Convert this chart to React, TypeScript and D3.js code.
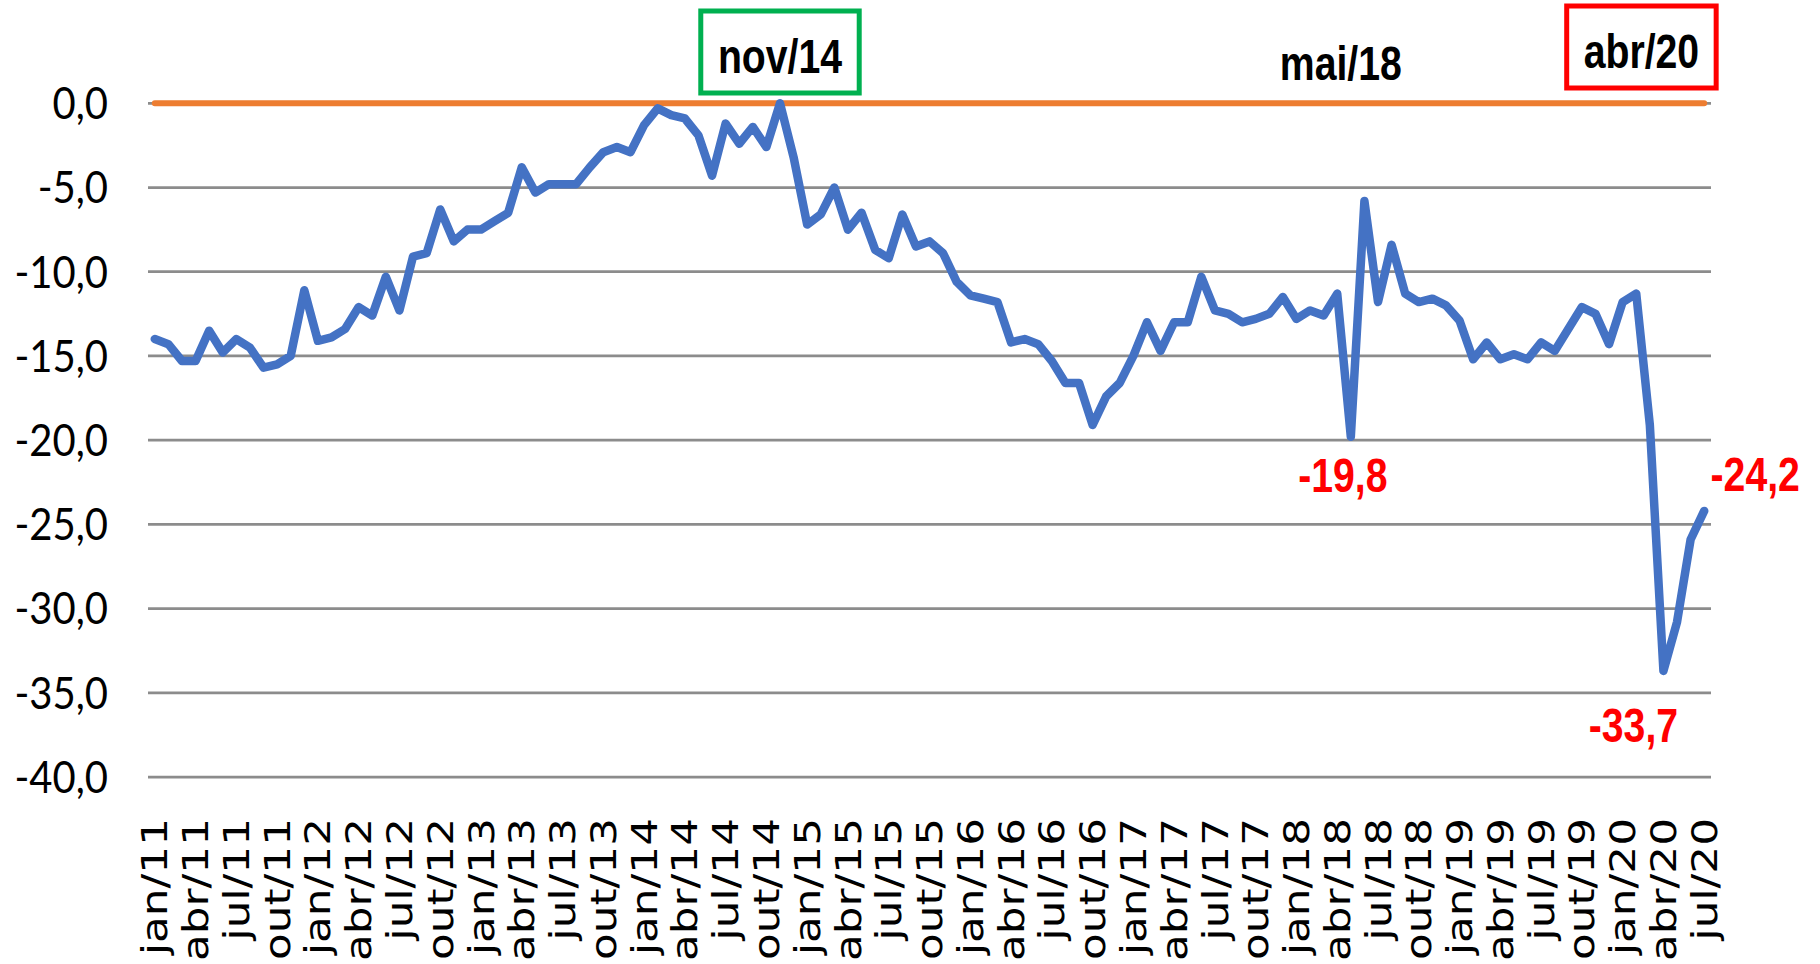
import { useRef, useEffect } from "react";
import * as d3 from "d3";

// monthly index, jan/11 .. jul/20
const years = ["11", "12", "13", "14", "15", "16", "17", "18", "19", "20"];
const monthNames = ["jan", "fev", "mar", "abr", "mai", "jun", "jul", "ago", "set", "out", "nov", "dez"];
const categories: string[] = years.flatMap((y) => monthNames.map((m) => `${m}/${y}`)).slice(0, 115);

const values = [
  -14.0, -14.3, -15.3, -15.3, -13.5, -14.8, -14.0, -14.5, -15.7, -15.5, -15.0, -11.1,
  -14.1, -13.9, -13.4, -12.1, -12.6, -10.3, -12.3, -9.1, -8.9, -6.3, -8.2, -7.5,
  -7.5, -7.0, -6.5, -3.8, -5.3, -4.8, -4.8, -4.8, -3.8, -2.9, -2.6, -2.9,
  -1.3, -0.3, -0.7, -0.9, -1.9, -4.3, -1.2, -2.4, -1.4, -2.6, 0.0, -3.2,
  -7.2, -6.6, -5.0, -7.5, -6.5, -8.7, -9.2, -6.6, -8.5, -8.2, -8.9, -10.6,
  -11.4, -11.6, -11.8, -14.2, -14.0, -14.3, -15.3, -16.6, -16.6, -19.1, -17.4, -16.6,
  -15.0, -13.0, -14.7, -13.0, -13.0, -10.3, -12.3, -12.5, -13.0, -12.8, -12.5, -11.5,
  -12.8, -12.3, -12.6, -11.3, -19.8, -5.8, -11.8, -8.4, -11.3, -11.8, -11.6, -12.0,
  -12.9, -15.2, -14.2, -15.2, -14.9, -15.2, -14.2, -14.7, -13.4, -12.1, -12.5, -14.3,
  -11.8, -11.3, -19.1, -33.7, -30.8, -25.9, -24.2,
];

const tickLabels = [
  "jan/11", "abr/11", "jul/11", "out/11", "jan/12", "abr/12", "jul/12", "out/12",
  "jan/13", "abr/13", "jul/13", "out/13", "jan/14", "abr/14", "jul/14", "out/14",
  "jan/15", "abr/15", "jul/15", "out/15", "jan/16", "abr/16", "jul/16", "out/16",
  "jan/17", "abr/17", "jul/17", "out/17", "jan/18", "abr/18", "jul/18", "out/18",
  "jan/19", "abr/19", "jul/19", "out/19", "jan/20", "abr/20", "jul/20",
];

const yTicks = [0, -5, -10, -15, -20, -25, -30, -35, -40];

// highlighted months above the chart
const headerNotes = ["nov/14", "mai/18", "abr/20"];
const headerBoxColors: Record<string, string> = { "nov/14": "#00B050", "abr/20": "#FF0000" };
// value labels in red
const valueNotes = ["mai/18", "abr/20", "jul/20"];

export default function App() {
  const ref = useRef<SVGSVGElement>(null);

  useEffect(() => {
    const svg = d3.select(ref.current);
    svg.selectAll("*").remove();

    const x = d3.scaleBand().domain(categories).range([148, 1711]);
    const cx = (c: string) => (x(c) as number) + x.bandwidth() / 2;
    const y = d3.scaleLinear().domain([-40, 0]).range([777, 103.3]);

    const fmt = (v: number) => v.toFixed(1).replace(".", ",");
    const narrow = 0.8; // condensed look of the bold labels

    // gridlines
    svg.append("g")
      .selectAll("line")
      .data(yTicks)
      .join("line")
      .attr("x1", 148)
      .attr("x2", 1711)
      .attr("y1", (d) => y(d))
      .attr("y2", (d) => y(d))
      .attr("stroke", "#8c8c8c")
      .attr("stroke-width", 2.75);

    // y labels
    svg.append("g")
      .selectAll("text")
      .data(yTicks)
      .join("text")
      .attr("transform", (d) => `translate(108,${y(d)}) scale(1,1.1)`)
      .attr("dy", "0.36em")
      .attr("text-anchor", "end")
      .attr("font-family", "Lato, 'Open Sans', sans-serif")
      .attr("font-size", 40)
      .attr("fill", "#000")
      .text((d) => fmt(d));

    // x labels, rotated
    svg.append("g")
      .selectAll("text")
      .data(tickLabels)
      .join("text")
      .attr("transform", (d) => `translate(${cx(d)},818) rotate(-90) scale(1.25,1)`)
      .attr("dy", "0.36em")
      .attr("text-anchor", "end")
      .attr("font-family", "'DejaVu Sans', sans-serif")
      .attr("font-size", 35)
      .attr("fill", "#000")
      .text((d) => d);

    // zero reference line
    const first = categories[0];
    const last = categories[categories.length - 1];
    svg.append("path")
      .datum([first, last])
      .attr("fill", "none")
      .attr("stroke", "#ED7D31")
      .attr("stroke-width", 6)
      .attr("stroke-linecap", "round")
      .attr("d", d3.line<string>().x((d) => cx(d)).y(() => y(0)));

    // main series
    const line = d3.line<number>()
      .x((_, i) => cx(categories[i]))
      .y((d) => y(d));

    svg.append("path")
      .datum(values)
      .attr("fill", "none")
      .attr("stroke", "#4472C4")
      .attr("stroke-width", 8.5)
      .attr("stroke-linejoin", "round")
      .attr("stroke-linecap", "round")
      .attr("d", line);

    // header notes
    const headerPos: Record<string, { dx: number; y: number }> = {
      "nov/14": { dx: 0, y: 73 },
      "mai/18": { dx: -10, y: 80 },
      "abr/20": { dx: -22, y: 68 },
    };
    headerNotes.forEach((c) => {
      const p = headerPos[c];
      const g = svg.append("g").attr("transform", `translate(${cx(c) + p.dx},${p.y})`);
      const t = g.append("text")
        .attr("transform", `scale(${narrow},1)`)
        .attr("text-anchor", "middle")
        .attr("font-family", "'Liberation Sans', Arial, sans-serif")
        .attr("font-weight", "bold")
        .attr("font-size", 49)
        .attr("fill", "#000")
        .text(c);
      const color = headerBoxColors[c];
      if (color) {
        const w = (t.node() as SVGTextElement).getBBox().width * narrow;
        g.insert("rect", "text")
          .attr("x", -w / 2 - 17)
          .attr("y", -62)
          .attr("width", w + 34)
          .attr("height", 82)
          .attr("fill", "#fff")
          .attr("stroke", color)
          .attr("stroke-width", 5);
      }
    });

    // value notes
    const valuePos: Record<string, { dx: number; dy: number }> = {
      "mai/18": { dx: -8, dy: 55 },
      "abr/20": { dx: -30, dy: 71 },
      "jul/20": { dx: 51, dy: -20 },
    };
    valueNotes.forEach((c) => {
      const i = categories.indexOf(c);
      const p = valuePos[c];
      svg.append("text")
        .attr("transform", `translate(${cx(c) + p.dx},${y(values[i]) + p.dy}) scale(${narrow},1)`)
        .attr("text-anchor", "middle")
        .attr("font-family", "'Liberation Sans', Arial, sans-serif")
        .attr("font-weight", "bold")
        .attr("font-size", 49)
        .attr("fill", "#FF0000")
        .text(fmt(values[i]));
    });
  }, []);

  return (
    <svg
      ref={ref}
      width={1820}
      height={964}
      style={{ position: "absolute", left: 0, top: 0, background: "#fff" }}
    />
  );
}
